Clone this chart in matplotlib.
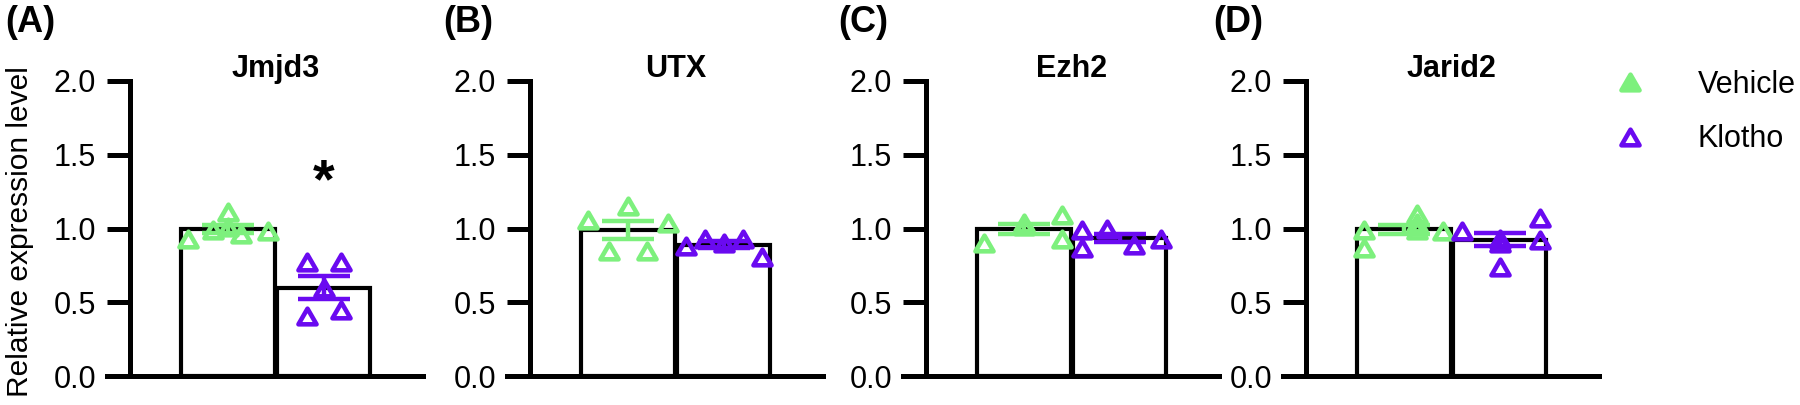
import numpy as np
import matplotlib.pyplot as plt
from matplotlib.path import Path
from matplotlib.markers import MarkerStyle
from matplotlib.lines import Line2D

plt.rcParams['font.family'] = ['Liberation Sans', 'DejaVu Sans']

genes = ['Jmjd3', 'UTX', 'Ezh2', 'Jarid2']
panel_labels = ['(A)', '(B)', '(C)', '(D)']
groups = ['Vehicle', 'Klotho']
colors = ['#7DF07D', '#6A0AF0']
stars = ['*', '', '', '']

# single animals (relative expression level)
jmjd3_vehicle = [0.93, 0.99, 1.11, 1.01, 0.96, 0.98]
jmjd3_klotho = [0.77, 0.41, 0.60, 0.77, 0.45]
utx_vehicle = [1.06, 0.85, 1.15, 0.85, 1.04]
utx_klotho = [0.88, 0.93, 0.90, 0.93, 0.81]
ezh2_vehicle = [0.90, 1.02, 1.04, 1.09, 0.93]
ezh2_klotho = [0.99, 0.87, 1.00, 0.89, 0.93]
jarid2_vehicle = [0.99, 0.87, 1.10, 0.99, 1.04, 0.98]
jarid2_klotho = [0.98, 0.93, 0.74, 0.90, 1.07, 0.92]

# horizontal scatter of the dots inside each bar (offset from bar centre)
jmjd3_vehicle_dx = [-0.42, -0.16, 0.0, 0.0, 0.13, 0.42]
jmjd3_klotho_dx = [-0.18, -0.18, 0.0, 0.18, 0.18]
utx_vehicle_dx = [-0.42, -0.2, 0.0, 0.2, 0.42]
utx_klotho_dx = [-0.4, -0.2, 0.0, 0.2, 0.4]
ezh2_vehicle_dx = [-0.42, 0.0, 0.0, 0.4, 0.4]
ezh2_klotho_dx = [-0.4, -0.4, -0.13, 0.15, 0.43]
jarid2_vehicle_dx = [-0.42, -0.42, 0.13, 0.13, 0.13, 0.41]
jarid2_klotho_dx = [-0.4, 0.0, 0.0, 0.0, 0.42, 0.42]

data = [
    [jmjd3_vehicle, jmjd3_klotho],
    [utx_vehicle, utx_klotho],
    [ezh2_vehicle, ezh2_klotho],
    [jarid2_vehicle, jarid2_klotho],
]
spread = [
    [jmjd3_vehicle_dx, jmjd3_klotho_dx],
    [utx_vehicle_dx, utx_klotho_dx],
    [ezh2_vehicle_dx, ezh2_klotho_dx],
    [jarid2_vehicle_dx, jarid2_klotho_dx],
]

# equilateral open triangle like the Prism one
tri = MarkerStyle(Path([(0, 0.433), (-0.5, -0.433), (0.5, -0.433), (0, 0.433)],
                       [Path.MOVETO, Path.LINETO, Path.LINETO, Path.CLOSEPOLY]),
                  joinstyle='round')

W, H = 1800, 405
fig = plt.figure(figsize=(18, 4.05), dpi=100)

ax_left_px = [107, 507, 903, 1283]
lw = 3.6

axes = []
for i, gene in enumerate(genes):
    ax = fig.add_axes([ax_left_px[i] / W, (H - 376) / H, 316 / W, 295 / H])
    axes.append(ax)
    centers = [1.0, 2.0]
    for j, grp in enumerate(groups):
        vals = np.array(data[i][j])
        mean = vals.mean()
        sem = vals.std(ddof=1) / np.sqrt(len(vals))
        ax.bar(centers[j], mean, width=0.98, color='white', edgecolor='black',
               linewidth=3, zorder=2)
        ax.errorbar(centers[j], mean, yerr=sem, fmt='none', ecolor=colors[j],
                    elinewidth=3.2, capsize=19, capthick=3.2, zorder=3)
        ax.plot(centers[j] + np.array(spread[i][j]), vals, ls='none', marker=tri,
                ms=13, mfc='none', mec=colors[j], mew=3.3, zorder=4, clip_on=False)
        if j == 1 and stars[i]:
            ax.text(centers[j], 1.31, stars[i], ha='center', va='center',
                    fontsize=40, fontweight='bold')

    ax.set_xlim(-0.27, 3.04)
    ax.set_ylim(0, 2.0)
    ax.set_yticks([0, 0.5, 1.0, 1.5, 2.0])
    ax.set_yticklabels(['0.0', '0.5', '1.0', '1.5', '2.0'])
    ax.set_xticks([])
    ax.spines['top'].set_visible(False)
    ax.spines['right'].set_visible(False)
    ax.spines['left'].set_position(('data', -0.03))
    ax.spines['left'].set_linewidth(lw)
    ax.spines['bottom'].set_linewidth(lw)
    ax.tick_params(axis='y', length=16.5, width=lw, labelsize=22, pad=8)
    ax.patch.set_visible(False)

    # gene name over the bars
    ax.text(1.5, 1.014, gene, transform=ax.get_xaxis_transform(), ha='center',
            va='baseline', fontsize=22, fontweight='bold')

for i, lab in enumerate(panel_labels):
    fig.text([5, 443, 838, 1213][i] / W, 1 - 22 / H, lab, ha='left', va='center',
             fontsize=26, fontweight='bold')

fig.text(20 / W, 1 - 232 / H, 'Relative expression level', rotation=90,
         ha='center', va='center', fontsize=21.5)

handles = [
    Line2D([], [], ls='none', marker=tri, ms=13, mfc=colors[0], mec=colors[0], mew=3.3),
    Line2D([], [], ls='none', marker=tri, ms=13, mfc='none', mec=colors[1], mew=3.3),
]
fig.legend(handles, groups, loc='center left', bbox_to_anchor=(1615 / W, 1 - 112 / H),
           frameon=False, fontsize=22, handlelength=1.0, handletextpad=1.7,
           labelspacing=0.8, borderpad=0, borderaxespad=0)

plt.savefig('out.png', dpi=100)
